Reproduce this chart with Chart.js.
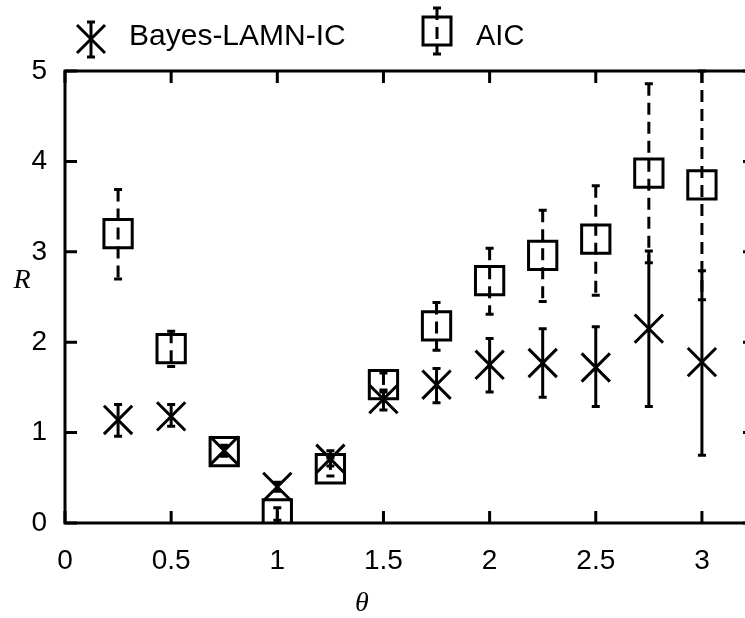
<!DOCTYPE html>
<html>
<head>
<meta charset="utf-8">
<script src="https://cdn.jsdelivr.net/npm/chart.js@4.4.1/dist/chart.umd.min.js"></script>
<style>
  html, body { margin: 0; padding: 0; background: #fff; overflow: hidden; }
  #wrap { width: 760px; height: 618px; }
</style>
</head>
<body>
<div id="wrap"><canvas id="rChart" width="760" height="618"></canvas></div>
<script>
// values
const thetaValues = [0.25, 0.5, 0.75, 1, 1.25, 1.5, 1.75, 2, 2.25, 2.5, 2.75, 3];
const bayesR    = [1.14, 1.18, 0.80, 0.40, 0.71, 1.37, 1.53, 1.75, 1.77, 1.72, 2.15, 1.78];
const bayesLow  = [0.96, 1.07, 0.74, 0.35, 0.63, 1.25, 1.33, 1.45, 1.39, 1.29, 1.29, 0.75];
const bayesHigh = [1.31, 1.31, 0.86, 0.45, 0.80, 1.47, 1.71, 2.04, 2.15, 2.17, 3.01, 2.79];
const aicR      = [3.20, 1.93, 0.79, 0.10, 0.60, 1.53, 2.18, 2.68, 2.96, 3.14, 3.87, 3.74];
const aicLow    = [2.70, 1.73, 0.74, 0.03, 0.52, 1.45, 1.91, 2.31, 2.45, 2.52, 2.88, 2.47];
const aicHigh   = [3.69, 2.12, 0.84, 0.17, 0.72, 1.66, 2.44, 3.04, 3.46, 3.73, 4.86, 5.00];
const xTickValues = [0, 0.5, 1, 1.5, 2, 2.5, 3];
const xTickLabels = ['0', '0.5', '1', '1.5', '2', '2.5', '3'];
const yTickValues = [0, 1, 2, 3, 4, 5];
const yTickLabels = ['0', '1', '2', '3', '4', '5'];

const sansFont = '"Liberation Sans", Arial, sans-serif';
const serifFont = '"Liberation Serif", "DejaVu Serif", serif';
const aicDash = [12, 7];

function toPoints(ys) {
    return thetaValues.map((t, i) => ({ x: t, y: ys[i] }));
}

function drawBar(ctx, px, top, bot, dash) {
    ctx.setLineDash(dash);
    ctx.beginPath();
    ctx.moveTo(px, top);
    ctx.lineTo(px, bot);
    ctx.stroke();
    ctx.setLineDash([]);
    ctx.beginPath();
    ctx.moveTo(px - 4, top);
    ctx.lineTo(px + 4, top);
    ctx.moveTo(px - 4, bot);
    ctx.lineTo(px + 4, bot);
    ctx.stroke();
}

const errorBars = {
    id: 'errorBars',
    afterDatasetsDraw(chart) {
        const { ctx, scales: { x, y } } = chart;
        ctx.save();
        ctx.strokeStyle = '#000';
        ctx.lineWidth = 3;
        chart.data.datasets.forEach((ds) => {
            ds.data.forEach((p, j) => {
                const px = x.getPixelForValue(p.x);
                drawBar(ctx, px, y.getPixelForValue(ds.errHigh[j]), y.getPixelForValue(ds.errLow[j]), ds.errDash);
            });
        });
        ctx.restore();
    },
};

const frame = {
    id: 'frame',
    afterDraw(chart) {
        const { ctx, chartArea: a, scales: { x, y } } = chart;
        ctx.save();
        ctx.strokeStyle = '#000';
        ctx.lineWidth = 3;
        ctx.setLineDash([]);
        ctx.strokeRect(a.left, a.top, a.right - a.left, a.bottom - a.top);
        const tl = 12;
        ctx.beginPath();
        xTickValues.forEach((v) => {
            const px = x.getPixelForValue(v);
            ctx.moveTo(px, a.bottom); ctx.lineTo(px, a.bottom - tl);
            ctx.moveTo(px, a.top); ctx.lineTo(px, a.top + tl);
        });
        yTickValues.forEach((v) => {
            const py = y.getPixelForValue(v);
            ctx.moveTo(a.left, py); ctx.lineTo(a.left + tl, py);
            ctx.moveTo(a.right, py); ctx.lineTo(a.right - tl, py);
        });
        ctx.stroke();

        // axis names
        ctx.fillStyle = '#000';
        ctx.textAlign = 'center';
        ctx.textBaseline = 'middle';
        ctx.font = 'italic 28px ' + serifFont;
        ctx.fillText('R', 22, 281);
        ctx.fillText('θ', 362, 604);

        // legend
        ctx.font = '30px ' + sansFont;
        ctx.textAlign = 'left';
        ctx.fillText('Bayes-LAMN-IC', 129, 37);
        ctx.font = '29px ' + sansFont;
        ctx.fillText('AIC', 476, 37);
        const bx = 91, by = 39, h = 14;
        ctx.beginPath();
        ctx.moveTo(bx - h, by - h); ctx.lineTo(bx + h, by + h);
        ctx.moveTo(bx + h, by - h); ctx.lineTo(bx - h, by + h);
        ctx.stroke();
        drawBar(ctx, bx, 22, 57, []);
        const ax = 437, ay = 31;
        ctx.strokeRect(ax - h, ay - h, 2 * h, 2 * h);
        drawBar(ctx, ax, 8, 54, aicDash);
        ctx.restore();
    },
};

new Chart(document.getElementById('rChart'), {
    type: 'scatter',
    data: {
        datasets: [
            {
                label: 'Bayes-LAMN-IC',
                data: toPoints(bayesR),
                errLow: bayesLow,
                errHigh: bayesHigh,
                errDash: [],
                pointStyle: 'crossRot',
                pointRadius: 20,
                pointBorderWidth: 3,
                borderColor: '#000',
                backgroundColor: '#000',
            },
            {
                label: 'AIC',
                data: toPoints(aicR),
                errLow: aicLow,
                errHigh: aicHigh,
                errDash: aicDash,
                pointStyle: 'rect',
                pointRadius: 20,
                pointBorderWidth: 3,
                borderColor: '#000',
                backgroundColor: 'rgba(0,0,0,0)',
            },
        ],
    },
    options: {
        responsive: false,
        animation: false,
        layout: { autoPadding: false, padding: { top: 71, right: 5, left: 0, bottom: 0 } },
        plugins: {
            legend: { display: false },
            tooltip: { enabled: false },
        },
        scales: {
            x: {
                type: 'linear',
                min: 0,
                max: 3.25,
                afterBuildTicks: (s) => { s.ticks = xTickValues.map((v) => ({ value: v })); },
                afterFit: (s) => { s.height = 95; s.paddingLeft = 0; s.paddingRight = 0; },
                grid: { display: false, drawTicks: false },
                border: { display: false },
                ticks: {
                    color: '#000',
                    padding: 21,
                    font: { size: 28, family: sansFont },
                    callback: (v, i) => xTickLabels[i],
                },
            },
            y: {
                min: 0,
                max: 5,
                afterBuildTicks: (s) => { s.ticks = yTickValues.map((v) => ({ value: v })); },
                afterFit: (s) => { s.width = 65; s.paddingTop = 0; s.paddingBottom = 0; },
                grid: { display: false, drawTicks: false },
                border: { display: false },
                ticks: {
                    color: '#000',
                    padding: 18,
                    font: { size: 28, family: sansFont },
                    callback: (v, i) => yTickLabels[i],
                },
            },
        },
    },
    plugins: [errorBars, frame],
});
</script>
</body>
</html>
